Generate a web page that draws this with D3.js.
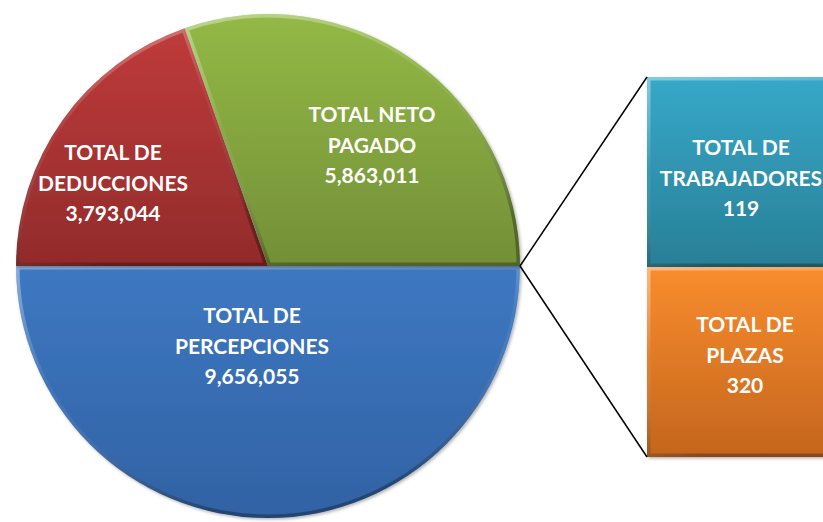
<!DOCTYPE html>
<html>
<head>
<meta charset="utf-8">
<script src="https://cdn.jsdelivr.net/npm/d3@7"></script>
<style>
  html, body { margin: 0; padding: 0; background: #ffffff; overflow: hidden; }
  svg { display: block; }
  text { font-family: Lato, "Open Sans", sans-serif; font-weight: 700; fill: #ffffff; }
</style>
</head>
<body>
<svg id="chart" width="823" height="522"></svg>
<script>
// ---- data ----
const pieCategories = ["TOTAL DE PERCEPCIONES", "TOTAL DE DEDUCCIONES", "TOTAL NETO PAGADO"];
const pieLabelLines = [["TOTAL DE", "PERCEPCIONES"], ["TOTAL DE", "DEDUCCIONES"], ["TOTAL NETO", "PAGADO"]];
const pieValues = [9656055, 3793044, 5863011];

const barCategories = ["TOTAL DE TRABAJADORES", "TOTAL DE PLAZAS"];
const barLabelLines = [["TOTAL DE", "TRABAJADORES"], ["TOTAL DE", "PLAZAS"]];
const barValues = [119, 320];

// ---- layout / style ----
const W = 823, H = 522;
const cx = 268, cy = 266, R = 252;
const barX0 = 647, barX1 = 835, barTop = 77, barBottom = 457;
const pieColors = [["#3e78c2", "#3162a4"], ["#bf3b3b", "#922b2b"], ["#93b946", "#738f37"]];
const barColors = [["#37a8c9", "#287f96"], ["#f98d2e", "#c4651d"]];
// label anchor offsets (layout): centre x, first baseline y
const pieLabelPos = [[-16, 57], [-155, -106], [104, -144]];
const barLabelPos = [[94, 78], [98, 65]];
const lineH = 30.5;
const fmt = d3.format(",");

const svg = d3.select("#chart");
const defs = svg.append("defs");

function vGrad(id, c0, c1) {
  const g = defs.append("linearGradient").attr("id", id)
    .attr("x1", 0).attr("y1", 0).attr("x2", 0).attr("y2", 1);
  g.append("stop").attr("offset", "0%").attr("stop-color", c0);
  g.append("stop").attr("offset", "100%").attr("stop-color", c1);
}
pieColors.forEach((c, i) => vGrad("pg" + i, c[0], c[1]));
barColors.forEach((c, i) => vGrad("bg" + i, c[0], c[1]));

// bevel stroke gradient
const bev = defs.append("linearGradient").attr("id", "bevel")
  .attr("x1", 0).attr("y1", 0).attr("x2", 0.3).attr("y2", 1);
bev.append("stop").attr("offset", "0%").attr("stop-color", "#ffffff").attr("stop-opacity", 0.4);
bev.append("stop").attr("offset", "45%").attr("stop-color", "#ffffff").attr("stop-opacity", 0.05);
bev.append("stop").attr("offset", "100%").attr("stop-color", "#000000").attr("stop-opacity", 0.3);

const shadow = defs.append("filter").attr("id", "shadow")
  .attr("x", "-10%").attr("y", "-10%").attr("width", "120%").attr("height", "120%");
shadow.append("feDropShadow").attr("dx", 1.5).attr("dy", 1.5).attr("stdDeviation", 1.5)
  .attr("flood-color", "#000").attr("flood-opacity", 0.3);

// ---- pie ----
const pie = d3.pie().sort(null)
  .startAngle(Math.PI / 2).endAngle(Math.PI / 2 + 2 * Math.PI)
  .value(d => d);
const arcs = pie(pieValues);
const arc = d3.arc().innerRadius(0).outerRadius(R);

const gPie = svg.append("g").attr("transform", `translate(${cx},${cy})`);

arcs.forEach((a, i) => {
  const p = arc(a);
  defs.append("clipPath").attr("id", "pc" + i).append("path").attr("d", p);
  const g = gPie.append("g").attr("filter", "url(#shadow)");
  g.append("path").attr("d", p).attr("fill", `url(#pg${i})`);
  g.append("path").attr("d", p).attr("fill", "none")
    .attr("stroke", "url(#bevel)").attr("stroke-width", 7)
    .attr("clip-path", `url(#pc${i})`);
});

// ---- bar of pie ----
const yBand = d3.scaleBand().domain(barCategories).range([barTop, barBottom]).padding(0);
const gBar = svg.append("g");
barCategories.forEach((c, i) => {
  const y0 = yBand(c), h = yBand.bandwidth();
  defs.append("clipPath").attr("id", "bc" + i).append("rect")
    .attr("x", barX0).attr("y", y0).attr("width", barX1 - barX0).attr("height", h);
  const g = gBar.append("g").attr("filter", "url(#shadow)");
  g.append("rect").attr("x", barX0).attr("y", y0).attr("width", barX1 - barX0).attr("height", h)
    .attr("fill", `url(#bg${i})`);
  g.append("rect").attr("x", barX0).attr("y", y0).attr("width", barX1 - barX0).attr("height", h)
    .attr("fill", "none").attr("stroke", "url(#bevel)").attr("stroke-width", 7)
    .attr("clip-path", `url(#bc${i})`);
});

// ---- connector lines ----
const joint = [cx + R * Math.sin(arcs[0].startAngle), cy - R * Math.cos(arcs[0].startAngle)];
svg.append("line").attr("x1", joint[0]).attr("y1", joint[1])
  .attr("x2", barX0).attr("y2", yBand(barCategories[0]))
  .attr("stroke", "#000").attr("stroke-width", 1.5);
svg.append("line").attr("x1", joint[0]).attr("y1", joint[1])
  .attr("x2", barX0).attr("y2", yBand(barCategories[1]) + yBand.bandwidth())
  .attr("stroke", "#000").attr("stroke-width", 1.5);

// ---- labels ----
function label(x, y, lines) {
  const t = svg.append("text").attr("text-anchor", "middle").attr("font-size", 21);
  lines.forEach((l, k) => {
    t.append("tspan").attr("x", x).attr("y", y + k * lineH).text(l);
  });
}
arcs.forEach((a, i) => {
  label(cx + pieLabelPos[i][0], cy + pieLabelPos[i][1], [...pieLabelLines[i], fmt(pieValues[i])]);
});
barCategories.forEach((c, i) => {
  label(barX0 + barLabelPos[i][0], yBand(c) + barLabelPos[i][1], [...barLabelLines[i], fmt(barValues[i])]);
});
</script>
</body>
</html>
